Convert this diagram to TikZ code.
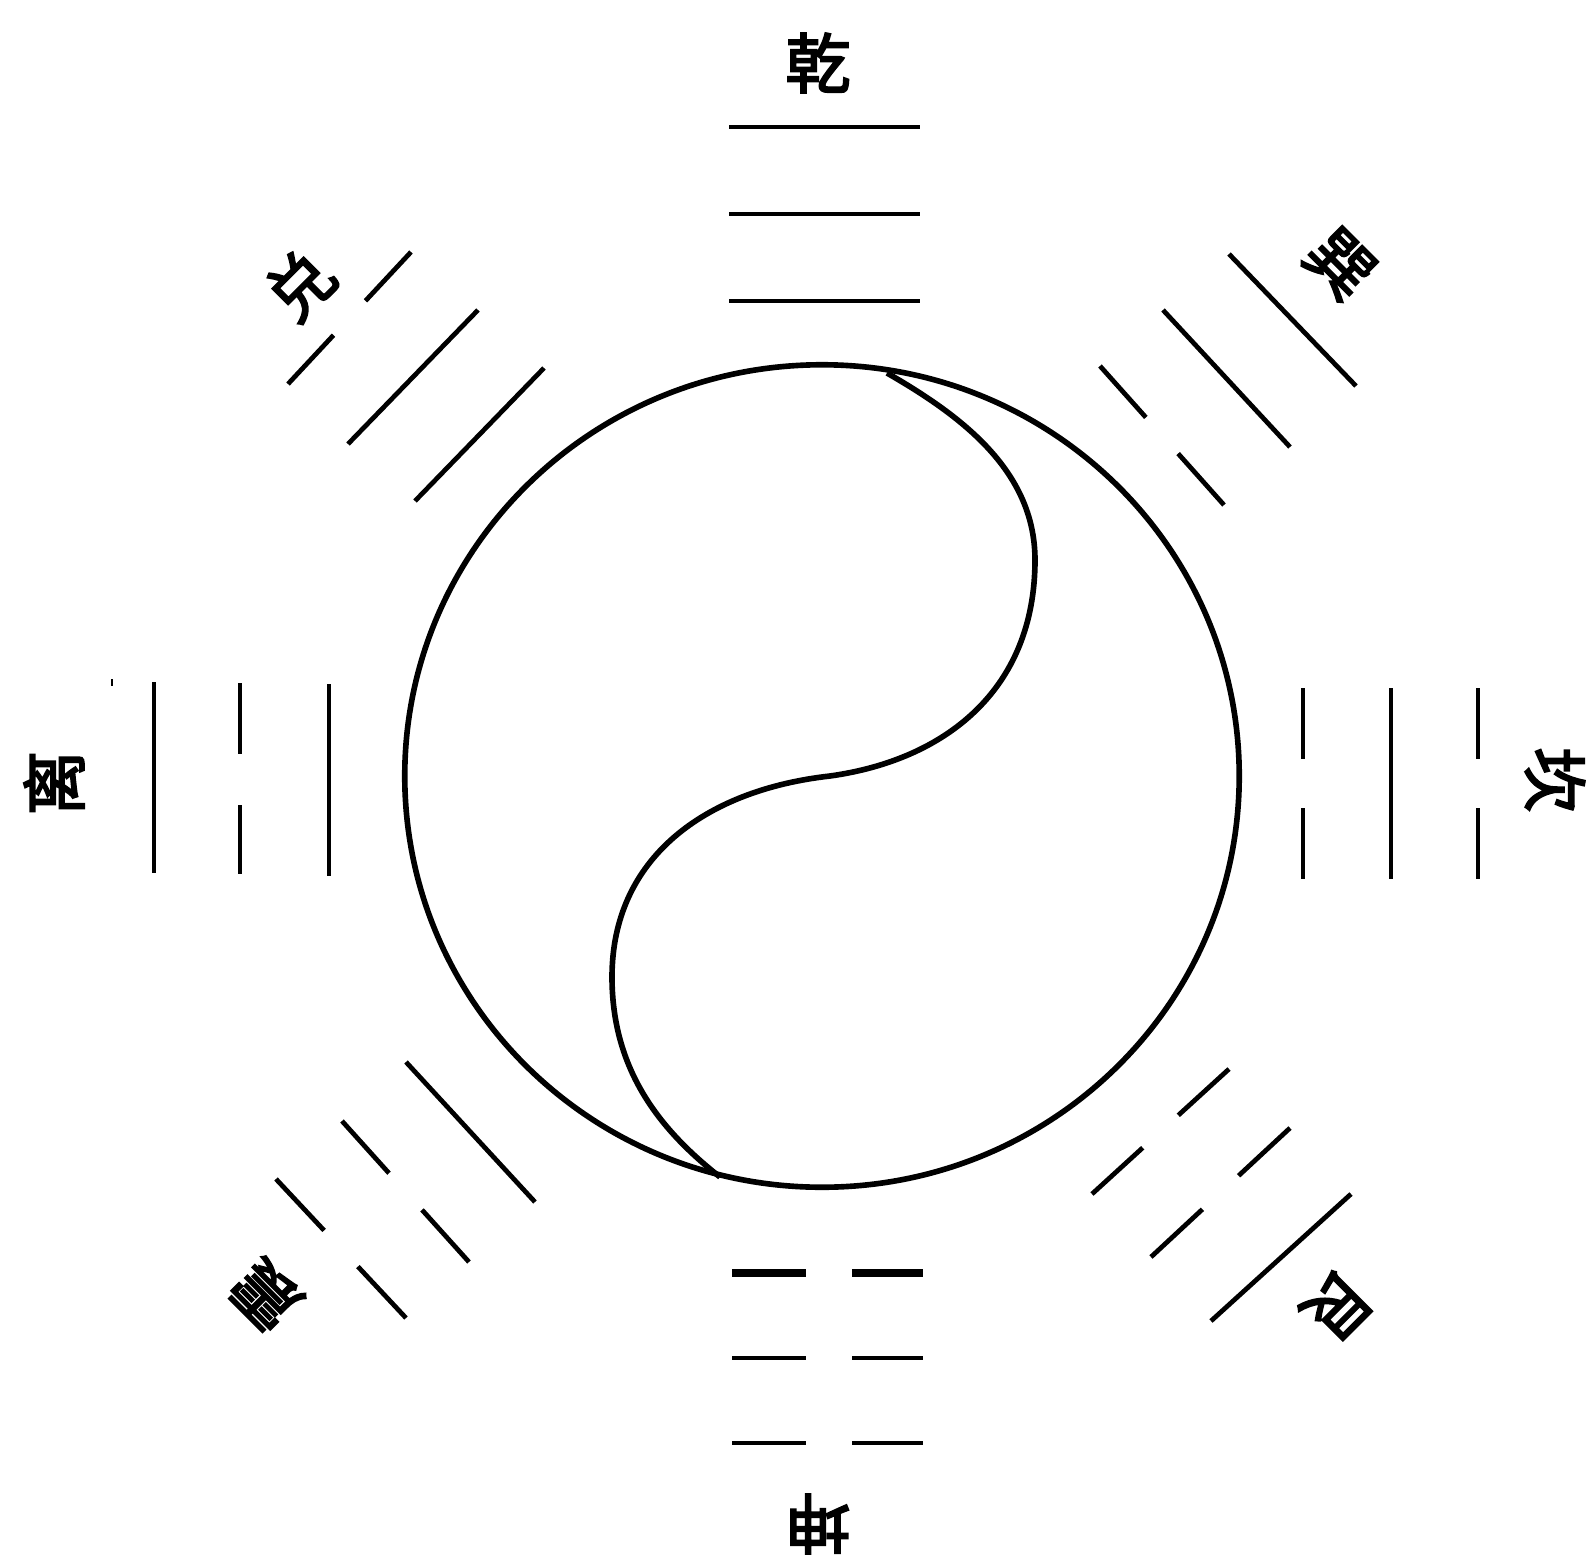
\documentclass[tikz,border=0pt]{standalone}
\usepackage{fontspec}
\newfontfamily\cjk[FakeBold=3]{Noto Sans CJK SC}
\usetikzlibrary{calc}
\tikzset{
  yao/.style={line width=1.35pt, line cap=butt},
  thickyao/.style={line width=2.3pt, line cap=butt},
  rim/.style={line width=1.6pt},
  gua/.style={font=\cjk\fontsize{18.5}{18.5}\selectfont, inner sep=0pt}
}
\newcommand\yinyao[3][yao]{\draw[#1] (#2) -- ($(#2)!0.37!(#3)$) ($(#2)!0.63!(#3)$) -- (#3);}
\begin{document}
\begin{tikzpicture}[x=0.01cm,y=-0.01cm]
\useasboundingbox (0,0) rectangle (1593,1557);
\fill[white] (0,0) rectangle (1593,1557);
% circle and S-curve
\coordinate (C) at (822,776);
\draw[rim] (C) ellipse [x radius=4.17cm, y radius=4.11cm];
\coordinate (s0) at (887,373);
\coordinate (s1) at (1035,560);
\coordinate (s2) at (830,776);
\coordinate (s3) at (612,977);
\coordinate (s4) at (720,1177);
\draw[rim] (s0) .. controls (960,415) and (1035,470) .. (s1)
  .. controls (1035,690) and (945,760) .. (s2)
  .. controls (705,790) and (612,858) .. (s3)
  .. controls (612,1070) and (660,1130) .. (s4);
% Qian (top): three solid
\draw[yao] (729,127) -- (920,127);
\draw[yao] (729,214) -- (920,214);
\draw[yao] (729,301) -- (920,301);
% Kun (bottom): three broken
\draw[thickyao] (732,1273) -- (806,1273) (852,1273) -- (923,1273);
\draw[yao] (732,1358) -- (806,1358) (852,1358) -- (923,1358);
\draw[yao] (732,1443) -- (806,1443) (852,1443) -- (923,1443);
% Li (left)
\draw[yao] (154,682) -- (154,873);
\draw[yao] (240,683) -- (240,754) (240,805) -- (240,874);
\draw[yao] (329,684) -- (329,876);
\draw[line width=0.6pt] (112,679) -- (112,686);
% Kan (right)
\draw[yao] (1303,688) -- (1303,759) (1303,808) -- (1303,879);
\draw[yao] (1391,688) -- (1391,879);
\draw[yao] (1478,688) -- (1478,759) (1478,808) -- (1478,879);
% Xun (top right)
\draw[yao] (1229,254) -- (1356,386);
\draw[yao] (1163,310) -- (1290,447);
\yinyao{1100,366}{1224,505}
% Dui (top left)
\yinyao{288,384}{411,252}
\draw[yao] (348,444) -- (478,310);
\draw[yao] (415,501) -- (544,368);
% Zhen (bottom left)
\draw[yao] (406,1062) -- (535,1202);
\yinyao{342,1121}{469,1262}
\yinyao{276,1179}{406,1318}
% Gen (bottom right)
\yinyao{1092,1194}{1229,1069}
\yinyao{1151,1257}{1290,1128}
\draw[yao] (1211,1321) -- (1351,1194);
% names
\node[gua] (qian) at (818,63) {乾};
\node[gua, rotate=45] (dui) at (300,285) {兑};
\node[gua, rotate=-45] (xun) at (1340,264) {巽};
\node[gua, rotate=90] (li) at (54,783) {离};
\node[gua, rotate=-90] (kan) at (1555,780) {坎};
\node[gua, rotate=135] (zhen) at (266,1295) {震};
\node[gua, rotate=-135] (gen) at (1337,1306) {艮};
\node[gua, rotate=180] (kun) at (818,1524) {坤};
\end{tikzpicture}
\end{document}
